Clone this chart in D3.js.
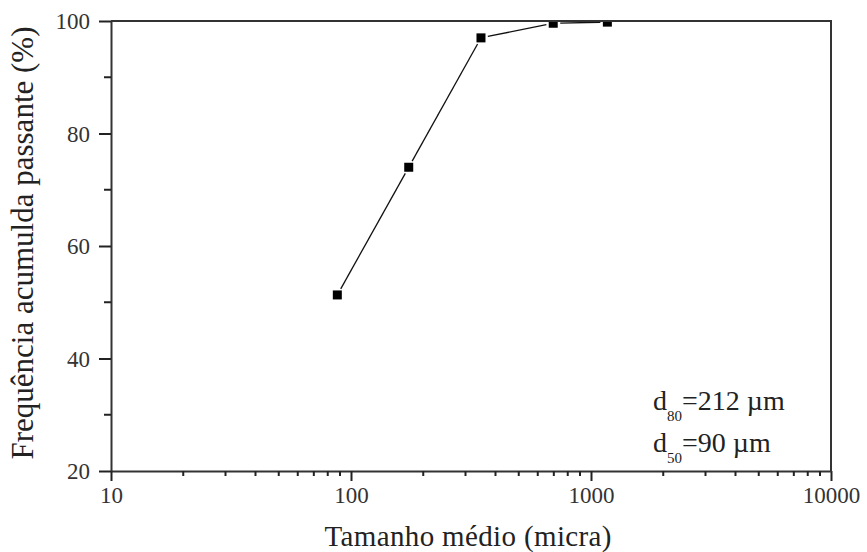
<!DOCTYPE html>
<html>
<head>
<meta charset="utf-8">
<script src="https://cdn.jsdelivr.net/npm/d3@7"></script>
</head>
<body style="margin:0">
<svg id="chart" width="867" height="552" font-family="Liberation Serif"></svg>
<script>
// ---- data ----
const sizes = [87.7, 174, 348, 696, 1170];         // Tamanho médio (micra)
const passing = [51.3, 74.0, 97.0, 99.6, 99.8];    // Frequência acumulada passante (%)
const xTickValues = [10, 100, 1000, 10000];
const yTickValues = [20, 40, 60, 80, 100];
const yMinorValues = [30, 50, 70, 90];
const annotations = [
  { sub: "80", value: "=212 µm" },
  { sub: "50", value: "=90 µm" }
];
const xTitle = "Tamanho médio (micra)";
const yTitle = "Frequência acumulda passante (%)";

// ---- layout ----
const FAM = "Liberation Serif";
const W = 867, H = 552;
const m = { left: 111, right: 36, top: 21, bottom: 81 };
const svg = d3.select("#chart");
const x = d3.scaleLog().domain([10, 10000]).range([m.left, W - m.right]);
const y = d3.scaleLinear().domain([20, 100]).range([H - m.bottom, m.top]);

svg.append("defs").append("clipPath").attr("id", "plotclip")
  .append("rect").attr("x", m.left).attr("y", m.top)
  .attr("width", W - m.left - m.right).attr("height", H - m.top - m.bottom);

// data line with gaps around markers
const pts = sizes.map((s, i) => [x(s), y(passing[i])]);
const gap = 7;
const segs = [];
for (let i = 0; i < pts.length - 1; i++) {
  const [x1, y1] = pts[i], [x2, y2] = pts[i + 1];
  const len = Math.hypot(x2 - x1, y2 - y1);
  if (len <= 2 * gap) continue;
  const ux = (x2 - x1) / len, uy = (y2 - y1) / len;
  segs.push([x1 + ux * gap, y1 + uy * gap, x2 - ux * gap, y2 - uy * gap]);
}
const plot = svg.append("g").attr("clip-path", "url(#plotclip)");
plot.selectAll("line.seg").data(segs).join("line").attr("class", "seg")
  .attr("x1", d => d[0]).attr("y1", d => d[1]).attr("x2", d => d[2]).attr("y2", d => d[3])
  .attr("stroke", "#111").attr("stroke-width", 1.3);
plot.selectAll("rect.mk").data(sizes).join("rect").attr("class", "mk")
  .attr("x", (d) => x(d) - 4.5).attr("y", (d, i) => y(passing[i]) - 4.5)
  .attr("width", 9).attr("height", 9).attr("fill", "#000");

// minor x ticks (2..9 in each decade)
const xMinor = [];
[10, 100, 1000].forEach(d => { for (let k = 2; k <= 9; k++) xMinor.push(d * k); });

// bottom axis
const xAxis = d3.axisBottom(x).tickValues(xTickValues).tickFormat(d3.format("d"))
  .tickSizeInner(10).tickSizeOuter(0);
const gx = svg.append("g").attr("transform", `translate(0,${H - m.bottom})`).call(xAxis);
gx.attr("font-family", FAM).attr("font-size", 23).attr("text-anchor", "start");
gx.selectAll(".tick line").attr("stroke", "#222").attr("stroke-width", 2);
gx.select(".domain").attr("stroke", "#333").attr("stroke-width", 2);
gx.selectAll(".tick text")
  .attr("font-family", FAM).attr("font-size", 23).attr("fill", "#333")
  .attr("text-anchor", "start").attr("y", 32).attr("dy", 0)
  .each(function () {
    const w = this.getComputedTextLength();
    d3.select(this).attr("x", -w / 2);
  });
svg.append("g").selectAll("line").data(xMinor).join("line")
  .attr("x1", d => x(d)).attr("x2", d => x(d))
  .attr("y1", H - m.bottom).attr("y2", H - m.bottom + 5)
  .attr("stroke", "#222").attr("stroke-width", 2);

// left axis
const yAxis = d3.axisLeft(y).tickValues(yTickValues).tickFormat(d3.format("d"))
  .tickSizeInner(12).tickSizeOuter(0).tickPadding(9);
const gy = svg.append("g").attr("transform", `translate(${m.left},0)`).call(yAxis);
gy.attr("font-family", FAM).attr("font-size", 23).attr("text-anchor", "start");
gy.selectAll(".tick line").attr("stroke", "#222").attr("stroke-width", 2);
gy.select(".domain").attr("stroke", "#333").attr("stroke-width", 2);
gy.selectAll(".tick text")
  .attr("font-family", FAM).attr("font-size", 23).attr("fill", "#333")
  .attr("text-anchor", "start").attr("dy", "0.34em")
  .each(function () {
    const w = this.getComputedTextLength();
    d3.select(this).attr("x", -21 - w);
  });
svg.append("g").selectAll("line").data(yMinorValues).join("line")
  .attr("x1", m.left - 7).attr("x2", m.left)
  .attr("y1", d => y(d)).attr("y2", d => y(d))
  .attr("stroke", "#222").attr("stroke-width", 2);

// top and right frame
svg.append("line").attr("x1", m.left).attr("x2", W - m.right)
  .attr("y1", m.top).attr("y2", m.top).attr("stroke", "#333").attr("stroke-width", 2);
svg.append("line").attr("x1", W - m.right).attr("x2", W - m.right)
  .attr("y1", m.top - 1).attr("y2", H - m.bottom + 1).attr("stroke", "#333").attr("stroke-width", 2);

// axis titles
svg.append("text").attr("x", 468).attr("y", 546)
  .attr("text-anchor", "middle").attr("font-family", FAM).attr("font-size", 29)
  .attr("textLength", 287).attr("lengthAdjust", "spacing")
  .attr("fill", "#222").text(xTitle);
const yt = svg.append("text").attr("text-anchor", "start")
  .attr("font-family", FAM).attr("font-size", 31)
  .attr("fill", "#222").text(yTitle);
const ytw = yt.node().getComputedTextLength();
yt.attr("x", -ytw / 2).attr("transform", "translate(33,243) rotate(-90)");

// annotation
annotations.forEach((a, i) => {
  const t = svg.append("text").attr("x", 653).attr("y", 410 + i * 42)
    .attr("font-family", FAM).attr("font-size", 28).attr("fill", "#222");
  t.append("tspan").text("d");
  t.append("tspan").attr("font-size", 15).attr("dy", 11).text(a.sub);
  t.append("tspan").attr("dy", -11).text(a.value);
});
</script>
</body>
</html>
